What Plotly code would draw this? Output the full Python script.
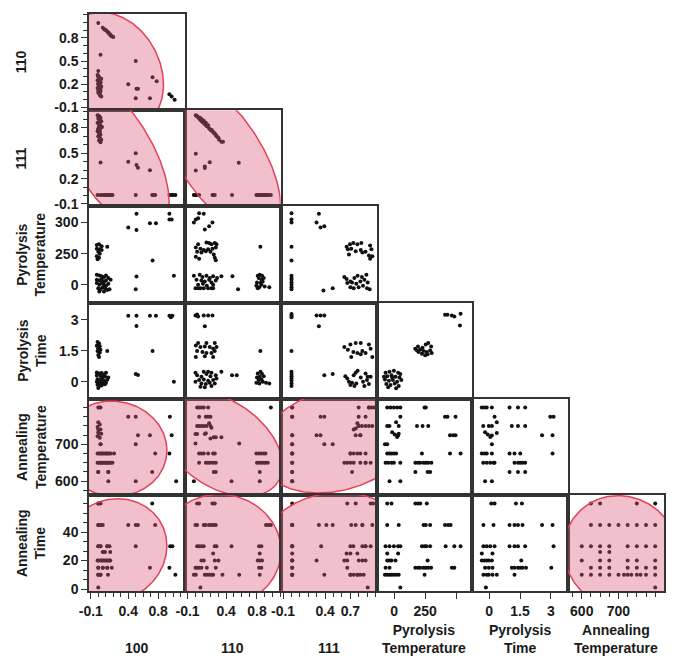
import numpy as np
import plotly.graph_objects as go

# ------------------------------------------------------------------ data
# Each panel: x values (column variable) and y values (row variable).
# Pyrolysis temperature (PT) stored in real units.  Dense clusters contain
# overplotted observations (last lines of several lists).

x_110v100 = [0.00, 0.06, 0.08, 0.10, 0.12, 0.14, 0.16, 0.18, 0.20, 0.03, 0.00,
             -0.01, 0.00, 0.02, 0.04, -0.01, 0.01, 0.03, 0.00, 0.02, 0.04, -0.01, 0.01, 0.03, 0.00, 0.02, 0.04,
             0.50, 0.40, 0.51, 0.53, 0.50, 0.69, 0.725, 0.78, 0.95, 0.98, 1.02,
             0.09, 0.13, 0.15, 0.17,
             0.00, 0.01, 0.02, 0.03, 0.00, 0.01, 0.02, 0.03, 0.00, 0.01, 0.02, 0.03]
y_110v100 = [0.99, 0.93, 0.91, 0.90, 0.88, 0.86, 0.84, 0.82, 0.81, 0.58, 0.37,
             0.32, 0.30, 0.28, 0.27, 0.25, 0.24, 0.22, 0.20, 0.19, 0.17, 0.15, 0.13, 0.11, 0.09, 0.06, 0.04,
             0.50, 0.20, 0.14, 0.14, 0.02, 0.02, 0.29, 0.24, 0.07, 0.04, 0.00,
             0.905, 0.87, 0.85, 0.83,
             0.31, 0.29, 0.26, 0.23, 0.21, 0.18, 0.16, 0.14, 0.12, 0.10, 0.08, 0.05]

x_111v100 = [-0.01, 0.01, 0.03, 0.00, 0.02, 0.04, -0.01, 0.01, 0.03, 0.05, 0.00, 0.02, -0.01, 0.01, 0.03, 0.00, 0.02, 0.04, 0.01, 0.03,
             0.03, 0.40, 0.50, 0.51, 0.53, 0.69,
             -0.01, 0.03, 0.06, 0.10, 0.13, 0.155, 0.19, 0.50, 0.72, 0.74, 0.76, 0.95, 0.98, 1.00, 1.03,
             0.00, 0.02, 0.01, 0.03, 0.00, 0.02, 0.01, 0.03, 0.00, 0.02, 0.01, 0.03,
             0.08, 0.11, 0.14, 0.17]
y_111v100 = [0.95, 0.94, 0.92, 0.91, 0.90, 0.88, 0.86, 0.85, 0.83, 0.81, 0.79, 0.77, 0.76, 0.74, 0.72, 0.70, 0.68, 0.66, 0.65, 0.63,
             0.39, 0.40, 0.50, 0.36, 0.33, 0.30,
             0.005, 0.005, 0.005, 0.005, 0.005, 0.005, 0.005, 0.005, 0.005, 0.005, 0.005, 0.005, 0.005, 0.005, 0.005,
             0.945, 0.925, 0.905, 0.885, 0.865, 0.84, 0.82, 0.80, 0.78, 0.75, 0.71, 0.67,
             0.005, 0.005, 0.005, 0.005]

x_111v110 = [0.007, 0.024, 0.05, 0.072, 0.093, 0.11, 0.137, 0.167, 0.197, 0.214, 0.232, 0.253, 0.266, 0.283, 0.309, 0.339, 0.36,
             0.007, 0.007, 0.124, 0.124, 0.188, 0.564,
             -0.018, 0.0, 0.016, 0.05, 0.223, 0.238, 0.253, 0.477, 0.793, 0.81, 0.827, 0.857, 0.888, 0.92, 0.95, 0.98,
             0.015, 0.04, 0.06, 0.08, 0.10, 0.125, 0.15, 0.18, 0.205, 0.24, 0.27, 0.30,
             0.84, 0.87, 0.90, 0.935]
y_111v110 = [0.95, 0.94, 0.924, 0.913, 0.893, 0.885, 0.861, 0.833, 0.782, 0.774, 0.754, 0.734, 0.715, 0.695, 0.66, 0.635, 0.635,
             0.495, 0.296, 0.344, 0.325, 0.395, 0.388,
             0.005, 0.005, 0.005, 0.005, 0.005, 0.005, 0.005, 0.005, 0.005, 0.005, 0.005, 0.005, 0.005, 0.005, 0.005, 0.005,
             0.94, 0.919, 0.90, 0.883, 0.865, 0.843, 0.82, 0.793, 0.77, 0.74, 0.71, 0.685,
             0.005, 0.005, 0.005, 0.005]

x_PTv100 = [0.51, 0.40, 0.51, 0.69, 0.77, 0.95, 0.95, 0.98,
            0.725, 0.51, 0.50, 1.01,
            -0.02, 0.01, 0.045, 0.12, -0.02, 0.02, 0.045, 0.0, 0.02, -0.02, 0.01, -0.01,
            -0.02, 0.014, 0.045, 0.076, 0.103, 0.134, -0.02, 0.014, 0.045, 0.076, 0.103, 0.165, -0.02, 0.014, 0.045,
            0.076, 0.103, 0.134, 0.0, 0.03, 0.06, 0.09, 0.12, 0.15, 0.014, 0.076]
y_PTv100 = [314, 292, 288, 299, 299, 314, 305, 305,
            195, 67, -35, 73,
            264, 265, 262, 261, 258, 257, 256, 253, 250, 230, 217, 205,
            81, 75, 68, 62, 75, 54, 41, 35, 45, 27, 35, 41, 14, 0, 14, 0, -8, 8, -27, -35, -19, -27, -41, -35, -54, -54]

x_PTv110 = [0.05, 0.11, 0.007, 0.037, -0.018, 0.223, 0.18, 0.124,
            0.037, 0.145, 0.18, 0.21, 0.253, 0.275, 0.007, 0.067, 0.11, 0.167, 0.223, 0.266, 0.024, 0.08, 0.137,
            0.197, 0.24, 0.007, 0.05, 0.253, 0.266, 0.844,
            -0.018, 0.058, 0.093, 0.145, 0.188, 0.232, 0.283, 0.339, 0.016, 0.08, 0.124, 0.18, 0.21, 0.266, 0.037,
            0.1, 0.15, 0.232, 0.003, 0.037, 0.067, 0.11, 0.167, 0.21, 0.232, 0.482, 0.555,
            0.81, 0.836, 0.866, 0.823, 0.858, 0.887, 0.80, 0.846, 0.874, 0.793, 0.83, 0.858, 0.9, 0.96, 0.81]
y_PTv110 = [315, 314, 305, 307, 300, 300, 294, 289,
            265, 268, 267, 265, 267, 265, 260, 258, 256, 257, 258, 260, 253, 252, 254, 253, 244, 225, 209, 217, 198, 261,
            73, 81, 62, 73, 54, 68, 54, 68, 41, 35, 27, 41, 19, 35, 0, 8, -8, 0, -27, -27, -27, -27, -27, -27, -27, 68, -35,
            73, 81, 73, 54, 41, 54, 19, 14, 27, -8, -19, 0, -14, -19, -27]

x_PTv111 = [0.001, 0.001, 0.001, 0.001, 0.001, 0.001, 0.001, 0.001, 0.001, 0.001, 0.001, 0.001,
            0.326, 0.298, 0.345, 0.39, 0.38, 0.49,
            0.655, 0.695, 0.735, 0.783, 0.83, 0.934, 0.67, 0.71, 0.763, 0.823, 0.88, 0.95, 0.683, 0.842, 0.92, 0.96, 0.934,
            0.628, 0.655, 0.70, 0.747, 0.786, 0.837, 0.89, 0.663, 0.72, 0.77, 0.818, 0.866, 0.905, 0.70, 0.739, 0.798,
            0.85, 0.897, 0.929]
y_PTv111 = [315, 305, 300, 261, 195, 73, 54, 41, 19, 0, -19, -35,
            314, 300, 292, 294, -46, -27,
            261, 265, 267, 265, 267, 263, 257, 258, 254, 256, 253, 257, 244, 252, 236, 230, 209,
            62, 46, 27, 54, 73, 62, 81, 14, 19, 8, 27, 41, 19, -19, -27, -19, -8, -27, -35]

x_Ptv100 = [0.40, 0.51, 0.69, 0.77, 0.95, 0.97, 0.99,
            0.51, 0.725, 0.50, 0.53, 1.01,
            -0.01, 0.01, -0.02, 0.02, 0.0, 0.03, -0.01, 0.02, 0.0, 0.01, 0.12,
            -0.02, 0.014, 0.045, 0.076, 0.103, -0.02, 0.03, 0.06, 0.09, 0.134, -0.01, 0.014, 0.045, 0.076, 0.12,
            -0.02, 0.0, 0.03, 0.06, 0.103, -0.01, 0.02, 0.045, 0.09, 0.0]
y_Ptv100 = [3.2, 3.2, 3.2, 3.2, 3.2, 3.13, 3.2,
            2.7, 1.49, 0.37, 0.33, 0.0,
            1.92, 1.85, 1.75, 1.72, 1.62, 1.55, 1.49, 1.42, 1.3, 1.2, 1.49,
            0.45, 0.4, 0.42, 0.35, 0.43, 0.3, 0.28, 0.22, 0.25, 0.2, 0.12, 0.08, 0.1, 0.05, 0.1,
            0.0, -0.05, -0.02, -0.08, -0.05, -0.15, -0.2, -0.18, -0.12, -0.3]

x_Ptv110 = [0.003, 0.024, 0.037, 0.11, 0.167, 0.223, 0.124,
            0.037, 0.145, 0.253, 0.007, 0.067, 0.124, 0.188, 0.232, 0.275, 0.024, 0.093, 0.145, 0.21, 0.253,
            0.007, 0.124, 0.232, 0.844,
            0.003, 0.11, 0.167, 0.21, 0.339, 0.024, 0.08, 0.145, 0.197, 0.266, 0.05, 0.11, 0.167, 0.232, 0.275,
            0.003, 0.08, 0.137, 0.188, 0.253, 0.067, 0.124, 0.21,
            0.477, 0.538,
            0.81, 0.846, 0.866, 0.80, 0.836, 0.887, 0.823, 0.858, 0.793, 0.83, 0.874, 0.917, 0.96]
y_Ptv110 = [3.21, 3.26, 3.16, 3.21, 3.21, 3.21, 2.69,
            1.875, 1.875, 1.875, 1.76, 1.68, 1.71, 1.68, 1.6, 1.68, 1.49, 1.44, 1.39, 1.39, 1.49,
            1.2, 1.23, 1.2, 1.49,
            0.43, 0.48, 0.48, 0.43, 0.48, 0.32, 0.24, 0.37, 0.27, 0.32, 0.08, 0.11, 0.05, 0.08, 0.16,
            0.0, -0.08, -0.11, -0.05, -0.08, -0.24, -0.27, -0.21,
            0.32, 0.32,
            0.4, 0.48, 0.37, 0.21, 0.24, 0.27, 0.08, 0.11, -0.05, -0.08, 0.0, -0.05, -0.08]

x_Ptv111 = [0.001, 0.001, 0.001, 0.001, 0.001, 0.001, 0.001, 0.001, 0.001, 0.001, 0.001,
            0.298, 0.345, 0.39, 0.326, 0.39, 0.49,
            0.628, 0.70, 0.763, 0.823, 0.92, 0.67, 0.735, 0.783, 0.842, 0.88, 0.94, 0.96, 0.71, 0.823,
            0.64, 0.663, 0.763, 0.786, 0.88, 0.739, 0.823, 0.905, 0.683, 0.72, 0.77, 0.85, 0.897,
            0.70, 0.747, 0.866, 0.92, 0.94]
y_Ptv111 = [3.28, 3.21, 3.13, 1.49, 0.48, 0.37, 0.27, 0.16, 0.05, -0.08, -0.21,
            3.21, 3.21, 3.21, 2.69, 0.32, 0.37,
            1.68, 1.81, 1.875, 1.875, 1.81, 1.55, 1.44, 1.39, 1.49, 1.39, 1.6, 1.2, 1.2, 1.33,
            0.27, 0.16, 0.43, 0.53, 0.4, 0.32, 0.21, 0.24, 0.0, -0.05, -0.08, 0.0, 0.08,
            -0.16, -0.21, -0.21, -0.11, 0.24]

x_PtvPT = [282, 286, 293, 297, 307, 306,
           170, 192, 210, 229, 251, 255, 259.6, 237, 252.6, 258, 197, 224, 250, 254, 260.6, 184,
           -69, -37, -2, 32, 50, -56, -21, 11, 43, -74, -42, -10, 24, 58, -63, -29, 5, 37, -48, 16, -16, -82]
y_PtvPT = [3.25, 3.25, 3.21, 3.16, 3.29, 2.72,
           1.6, 1.71, 1.56, 1.65, 1.81, 1.875, 1.71, 1.49, 1.44, 1.52, 1.44, 1.36, 1.28, 1.33, 1.39, 1.52,
           0.43, 0.48, 0.53, 0.43, 0.37, 0.27, 0.32, 0.24, 0.21, 0.11, 0.05, 0.08, 0.0, 0.08, -0.11, -0.16,
           -0.08, -0.21, -0.27, -0.32, 0.21, 0.24]

x_ATv100 = [0.0, 0.03, 0.40, 0.50, 0.956, 0.0, 0.02, -0.01, 0.03, 0.0, 0.04, -0.01, 0.02, 0.53, 0.69, 0.98,
            0.03, 0.50, -0.01, 0.03, 0.06, 0.10, 0.13, 0.165, 0.21, 0.76, 0.95,
            -0.01, 0.03, 0.06, 0.10, 0.13, 0.165, 0.19, 0.0, 0.134, 0.72, 0.134, 0.50, 1.04,
            0.01, 0.045, 0.08, 0.115, 0.15, 0.01, 0.045, 0.08, 0.115, 0.15, 0.015, 0.01, 0.0, 0.03, 0.0, 0.134]
y_ATv100 = [800, 800, 775, 775, 775, 760, 754, 747, 740, 733, 729, 722, 718, 725, 725, 725,
            700, 700, 675, 675, 675, 675, 675, 675, 675, 675, 675,
            650, 650, 650, 650, 650, 650, 650, 625, 625, 625, 600, 600, 600,
            675, 675, 675, 675, 675, 650, 650, 650, 650, 650, 800, 729, 740, 700, 625, 625]

x_ATv110 = [0.024, 0.05, 0.08, 0.11, 0.167, 0.98, 0.05, 0.137, 0.167, 0.197,
            0.024, 0.05, 0.08, 0.11, 0.145, 0.18, 0.197, 0.21,
            0.003, 0.024, 0.124, 0.137, 0.197, 0.24, 0.266, 0.339, 0.003, 0.57,
            0.05, 0.08, 0.11, 0.167, 0.232, 0.253, 0.793, 0.827, 0.857, 0.888, 0.91,
            0.05, 0.137, 0.167, 0.197, 0.232, 0.266, 0.80, 0.827, 0.857, 0.888, 0.91, 0.94,
            0.24, 0.266, 0.836, -0.018, 0.47, 0.836]
y_ATv110 = [800, 800, 800, 800, 800, 800, 775, 775, 775, 775,
            750, 750, 750, 750, 750, 757, 750, 745,
            728, 728, 728, 730, 716, 719, 719, 719, 702, 702,
            675, 675, 675, 675, 675, 675, 675, 675, 675, 675, 675,
            650, 650, 650, 650, 650, 650, 650, 650, 650, 650, 650, 650,
            625, 625, 625, 600, 600, 600]

x_ATv111 = [0.009, 0.798, 0.92, 0.95, 0.98, 0.009, 0.345, 0.39, 0.798, 0.88,
            0.739, 0.763, 0.783, 0.798, 0.837, 0.88, 0.92, 0.96,
            0.009, 0.298, 0.345, 0.763, 0.818, 0.009, 0.39, 0.49,
            0.009, 0.70, 0.739, 0.783, 0.818, 0.88,
            0.009, 0.628, 0.663, 0.70, 0.739, 0.818, 0.88, 0.94, 0.009, 0.72, 0.009,
            0.009, 0.009, 0.009, 0.009, 0.009, 0.009, 0.009, 0.009, 0.009,
            0.798, 0.88, 0.70, 0.92, 0.818]
y_ATv111 = [800, 800, 800, 800, 800, 775, 775, 775, 775, 775,
            740, 743, 757, 750, 750, 750, 750, 750,
            725, 725, 725, 725, 725, 700, 700, 700,
            675, 675, 675, 675, 675, 675,
            650, 650, 650, 650, 650, 650, 650, 650, 625, 625, 600,
            675, 650, 725, 700, 800, 775, 625, 600, 675,
            750, 650, 675, 800, 725]

x_ATvPT = [-56, -29, -2, 24, 50, 245, 251, 50, 282, 286, 299,
           -56, -37, 16, 37, 184, 229, 255, -16, 5, 24, 32, 37, 290, 295, 299,
           -74, -56, -56, -37, -21, -2, 16, 224, 290, 307,
           -69, -48, -21, -2, 50, 171, 192, 210, 237, 251, 255, 260, 171, 254, 258, -37, 50]
y_ATvPT = [800, 800, 800, 800, 800, 800, 800, 775, 775, 775, 775,
           750, 750, 760, 750, 750, 750, 750, 733, 727, 720, 724, 729, 725, 725, 725,
           700, 700, 675, 675, 675, 675, 675, 675, 675, 675,
           650, 650, 650, 650, 650, 650, 650, 650, 650, 650, 650, 650, 625, 625, 625, 600, 600]

x_ATvPt = [-0.36, -0.23, -0.12, 0.13, 0.99, 1.40, 1.75, 0.26, 2.97, 3.13,
           -0.29, -0.02, 0.13, 0.37, 1.10, 1.40, 1.75, -0.20, -0.07, 0.05, 0.13, 0.37, 2.57, 3.08, 0.13,
           -0.36, -0.23, -0.12, 0.13, 0.99, 1.23, 1.51, 3.08,
           -0.29, -0.12, 0.05, 0.21, 0.26, 1.23, 1.40, 1.51, 1.62, 1.75, 0.99, 1.40, 1.75, -0.20, 0.13]
y_ATvPt = [800, 800, 800, 800, 800, 800, 800, 775, 775, 775,
           750, 750, 750, 760, 750, 750, 750, 733, 727, 720, 724, 731, 725, 725, 700,
           675, 675, 675, 675, 675, 675, 675, 675,
           650, 650, 650, 650, 650, 650, 650, 650, 650, 650, 625, 625, 625, 600, 600]

x_Atv100 = [0.0, 0.03, 0.72, 0.0, 0.03, 0.06, 0.40, 0.50, 0.53, 0.76,
            0.0, 0.03, 0.12, 0.15, 0.50, 0.96, 0.99, 0.06, 0.09, 0.16,
            -0.01, 0.03, 0.06, 0.10, 0.13, 0.16, 0.0, 0.06, 0.12, 0.18, 0.69, 0.95,
            0.0, 0.03, 0.13, 1.03, 0.0,
            0.0, 0.045, 0.08, 0.115, 0.145, 0.0, 0.06, 0.12, 0.0, 0.03,
            0.0, 0.03, 0.12, 0.0, 0.03, 0.0, 0.075]
y_Atv100 = [60, 60, 60, 45, 45, 45, 45, 45, 45, 45,
            30, 30, 30, 30, 30, 30, 30, 26, 26, 26,
            20, 20, 20, 20, 20, 20, 15, 15, 15, 15, 15, 15,
            10, 10, 10, 10, 1,
            20, 20, 20, 20, 20, 15, 15, 15, 10, 10,
            30, 30, 30, 45, 45, 60, 26]

x_Atv110 = [0.024, 0.05, 0.223, 0.253,
            0.003, 0.024, 0.11, 0.137, 0.18, 0.21, 0.24, 0.266, 0.917, 0.95, 0.98,
            0.024, 0.05, 0.08, 0.11, 0.253, 0.275, 0.47, 0.827, 0.857, 0.232, 0.836,
            0.08, 0.11, 0.253, 0.30, 0.81, 0.836, 0.866,
            0.003, 0.024, 0.05, 0.08, 0.15, 0.266, 0.827, 0.857,
            -0.018, 0.007, 0.124, 0.15, 0.18, 0.21, 0.232, 0.352, 0.57, 0.836, 0.067]
y_Atv110 = [60, 60, 60, 60,
            45, 45, 45, 45, 45, 45, 45, 45, 45, 45, 45,
            30, 30, 30, 30, 30, 30, 30, 30, 30, 25, 25,
            20, 20, 20, 20, 20, 20, 20,
            15, 15, 15, 15, 15, 15, 15, 15,
            10, 10, 10, 10, 10, 10, 10, 10, 10, 10, 1]

x_Atv111 = [0.009, 0.663, 0.763, 0.94, 0.97,
            0.009, 0.326, 0.415, 0.49, 0.71, 0.763, 0.842, 0.96,
            0.009, 0.353, 0.70, 0.735, 0.842, 0.88, 0.94,
            0.009, 0.655, 0.70, 0.783,
            0.009, 0.298, 0.628, 0.663, 0.80, 0.842, 0.88,
            0.009, 0.663,
            0.009, 0.39, 0.70, 0.739, 0.783, 0.818, 0.858, 0.905,
            0.009, 0.009, 0.009, 0.009, 0.009, 0.009, 0.009, 0.009, 0.009,
            0.842, 0.88, 0.70, 0.783]
y_Atv111 = [60, 60, 60, 60, 60,
            45, 45, 45, 45, 45, 45, 45, 45,
            30, 30, 30, 30, 30, 30, 30,
            25, 25, 25, 25,
            20, 20, 20, 20, 20, 20, 20,
            15, 15,
            10, 10, 10, 10, 10, 10, 10, 1,
            45, 30, 20, 15, 10, 45, 30, 20, 10,
            45, 30, 10, 10]

x_AtvPT = [-56, -21, 171, 192, 210, 252.6,
           -56, 37, 237, 251, 258, 282, 287, 291,
           -69, -37, -2, 32, 50, 224, 245, 252, 258, 283, 297, 307,
           -56, 32, -56, -37, -21, 11, 254,
           -69, -37, 171, 192, 210, 237, 251, 255, 259.6, 293, 297,
           -74, -56, -37, -21, -2, 16, 37, 245, 50]
y_AtvPT = [60, 60, 60, 60, 60, 60,
           45, 45, 45, 45, 45, 45, 45, 45,
           30, 30, 30, 30, 30, 30, 30, 30, 30, 30, 30, 30,
           25, 25, 20, 20, 20, 20, 20,
           15, 15, 15, 15, 15, 15, 15, 15, 15, 15, 15,
           10, 10, 10, 10, 10, 10, 10, 10, 1]

x_AtvPt = [0.10, 0.26, 1.30, 1.59,
           -0.28, 0.21, 0.99, 1.23, 1.40, 1.62, 2.57, 3.08,
           -0.28, -0.12, 0.05, 0.26, 0.99, 1.23, 1.40, 1.75, 3.13,
           -0.36, 0.16, -0.36, -0.23, -0.12, -0.02, 0.13, 1.56,
           -0.20, -0.02, 0.16, 1.10, 1.23, 1.40, 1.51, 1.62, 1.79, 3.02,
           -0.28, -0.12, -0.02, 0.16, 0.37, 1.23, -0.16]
y_AtvPt = [60, 60, 60, 60,
           45, 45, 45, 45, 45, 45, 45, 45,
           30, 30, 30, 30, 30, 30, 30, 30, 30,
           25, 25, 20, 20, 20, 20, 20, 20,
           15, 15, 15, 15, 15, 15, 15, 15, 15, 15,
           10, 10, 10, 10, 10, 10, 1]

x_AtvAT = [625, 650, 750, 800,
           625, 650, 675, 700, 725, 750, 775, 800,
           600, 625, 650, 675, 725, 750, 775, 800,
           650, 675, 600, 650, 675, 725, 750, 800,
           625, 650, 675, 725, 750, 775, 800,
           600, 625, 650, 675, 700, 715, 725, 735, 750, 760, 775, 800, 800]
y_AtvAT = [60, 60, 60, 60,
           45, 45, 45, 45, 45, 45, 45, 45,
           30, 30, 30, 30, 30, 30, 30, 30,
           26, 26, 20, 20, 20, 20, 20, 20,
           15, 15, 15, 15, 15, 15, 15,
           10, 10, 10, 10, 10, 10, 10, 10, 10, 10, 10, 10, 1]

ROW_VARS = ['110', '111', 'PT', 'Pt', 'AT', 'At']
COL_VARS = ['100', '110', '111', 'PT', 'Pt', 'AT']
ROW_TITLES = ['110', '111', 'Pyrolysis<br>Temperature', 'Pyrolysis<br>Time',
              'Annealing<br>Temperature', 'Annealing<br>Time']
COL_TITLES = ['100', '110', '111', 'Pyrolysis<br>Temperature', 'Pyrolysis<br>Time',
              'Annealing<br>Temperature']

# (row variable, column variable, x, y, draw density ellipse)
PANELS = [
    ('110', '100', x_110v100, y_110v100, True),
    ('111', '100', x_111v100, y_111v100, True),
    ('111', '110', x_111v110, y_111v110, True),
    ('PT', '100', x_PTv100, y_PTv100, False),
    ('PT', '110', x_PTv110, y_PTv110, False),
    ('PT', '111', x_PTv111, y_PTv111, False),
    ('Pt', '100', x_Ptv100, y_Ptv100, False),
    ('Pt', '110', x_Ptv110, y_Ptv110, False),
    ('Pt', '111', x_Ptv111, y_Ptv111, False),
    ('Pt', 'PT', x_PtvPT, y_PtvPT, False),
    ('AT', '100', x_ATv100, y_ATv100, True),
    ('AT', '110', x_ATv110, y_ATv110, True),
    ('AT', '111', x_ATv111, y_ATv111, True),
    ('AT', 'PT', x_ATvPT, y_ATvPT, False),
    ('AT', 'Pt', x_ATvPt, y_ATvPt, False),
    ('At', '100', x_Atv100, y_Atv100, True),
    ('At', '110', x_Atv110, y_Atv110, True),
    ('At', '111', x_Atv111, y_Atv111, True),
    ('At', 'PT', x_AtvPT, y_AtvPT, False),
    ('At', 'Pt', x_AtvPt, y_AtvPt, False),
    ('At', 'AT', x_AtvAT, y_AtvAT, True),
]


# ------------------------------------------------------------------ helpers
def pt_axis(v):
    """Pyrolysis-temperature axis of the chart: 0-250 linear, 250-300 stretched."""
    v = np.asarray(v, float)
    return np.where(v <= 250, v, 250 + 5 * (v - 250))


def to_axis(var, vals):
    return pt_axis(vals) if var == 'PT' else np.asarray(vals, float)


def density_ellipse(x, y, level=0.95, n=300):
    x = np.asarray(x, float)
    y = np.asarray(y, float)
    cov = np.cov(x, y)
    L = np.linalg.cholesky(cov)
    k = np.sqrt(-2 * np.log(1 - level))
    t = np.linspace(0, 2 * np.pi, n)
    pts = L @ np.vstack([np.cos(t), np.sin(t)]) * k
    return x.mean() + pts[0], y.mean() + pts[1]


RANGES = {
    '100': [-0.124, 1.156],
    '110': [-0.135, 1.107],
    '111': [-0.128, 1.01],
    'PT': [-142, 630],
    'Pt': [-0.82, 3.84],
    'AT': [563, 824],
    'At': [-1.4, 66.1],
}

dec = np.round(np.arange(-0.1, 1.101, 0.1), 2)
TICKS_Y = {
    '110': ([-0.1, 0.2, 0.5, 0.8], ['-0.1', '0.2', '0.5', '0.8'], dec),
    '111': ([-0.1, 0.2, 0.5, 0.8], ['-0.1', '0.2', '0.5', '0.8'], dec),
    'PT': (list(pt_axis([0, 250, 300])), ['0', '250', '300'], None),
    'Pt': ([0, 1.5, 3], ['0', '1.5', '3'], None),
    'AT': ([600, 700, 800], ['600', '700', ''], np.arange(575, 826, 25)),
    'At': ([0, 20, 40], ['0', '20', '40'], np.arange(0, 66, 20 / 3)),
}
TICKS_X = {
    '100': ([-0.1, 0.4, 0.8], ['-0.1', '0.4', '0.8'], dec),
    '110': ([-0.1, 0.4, 0.8], ['-0.1', '0.4', '0.8'], dec),
    '111': ([-0.1, 0.4, 0.7], ['-0.1', '0.4', '0.7'], dec),
    'PT': (list(pt_axis([0, 250, 300])), ['0', '250', ''], None),
    'Pt': ([0, 1.5, 3], ['0', '1.5', '3'], None),
    'AT': ([600, 700, 800], ['600', '700', ''], np.arange(575, 826, 25)),
}

LINE = '#333333'
TXT = '#1a1a1a'
FONT = 'Liberation Sans, Arial, sans-serif'
TICKFONT = dict(family=FONT, size=14, color=TXT, weight='bold')
N = 6
W, H = 675, 656
ML, MR, MT, MB = 89, 9, 14, 65
PW, PH = W - ML - MR, H - MT - MB


def axis_dict(var, spec, show, domain, anchor):
    d = dict(domain=domain, anchor=anchor, range=RANGES[var], showline=True, mirror=True,
             linecolor=LINE, linewidth=1.5, showgrid=False, zeroline=False, fixedrange=True)
    if show:
        vals, text, minor = spec[var]
        d.update(ticks='outside', ticklen=6, tickwidth=1, tickcolor=LINE, tickmode='array',
                 tickvals=vals, ticktext=text, showticklabels=True, tickfont=TICKFONT)
        if minor is not None:
            d['minor'] = dict(ticks='outside', ticklen=4, tickwidth=1, tickcolor=LINE,
                              tickmode='array', tickvals=list(minor), showgrid=False)
    else:
        d.update(ticks='', showticklabels=False)
    return d


fig = go.Figure()
layout_axes = {}
for k, (rv, cv, xs, ys, ell) in enumerate(PANELS, start=1):
    r = ROW_VARS.index(rv)
    c = COL_VARS.index(cv)
    xa = 'x' if k == 1 else f'x{k}'
    ya = 'y' if k == 1 else f'y{k}'
    xd = to_axis(cv, xs)
    yd = to_axis(rv, ys)
    fig.add_trace(go.Scatter(x=xd, y=yd, mode='markers', xaxis=xa, yaxis=ya,
                             marker=dict(size=4, color='#111111'), hoverinfo='skip',
                             showlegend=False))
    if ell:
        ex, ey = density_ellipse(xd, yd)
        fig.add_trace(go.Scatter(x=ex, y=ey, mode='lines', fill='toself', xaxis=xa, yaxis=ya,
                                 fillcolor='rgba(220,90,120,0.38)',
                                 line=dict(color='rgb(228,64,88)', width=1.5),
                                 hoverinfo='skip', showlegend=False))
    layout_axes['xaxis' if k == 1 else f'xaxis{k}'] = axis_dict(
        cv, TICKS_X, r == N - 1, [c / N, (c + 1) / N], ya)
    layout_axes['yaxis' if k == 1 else f'yaxis{k}'] = axis_dict(
        rv, TICKS_Y, c == 0, [1 - (r + 1) / N, 1 - r / N], xa)

annotations = []
TITLEFONT = dict(family=FONT, size=14, color=TXT, weight='bold')
for r, t in enumerate(ROW_TITLES):
    px = 31 if '<br>' in t else 21
    annotations.append(dict(text=t, xref='paper', yref='paper', x=(px - ML) / PW,
                            y=1 - (r + 0.5) / N, xanchor='center', yanchor='middle',
                            textangle=-90, showarrow=False, font=TITLEFONT))
for c, t in enumerate(COL_TITLES):
    py = 638.5 if '<br>' in t else 648
    annotations.append(dict(text=t, xref='paper', yref='paper', x=(c + 0.5) / N,
                            y=(H - MB - py) / PH, xanchor='center', yanchor='middle',
                            showarrow=False, font=TITLEFONT))

fig.update_layout(width=W, height=H, margin=dict(l=ML, r=MR, t=MT, b=MB),
                  paper_bgcolor='white', plot_bgcolor='white', showlegend=False,
                  annotations=annotations, **layout_axes)

fig.write_html('out.html')
